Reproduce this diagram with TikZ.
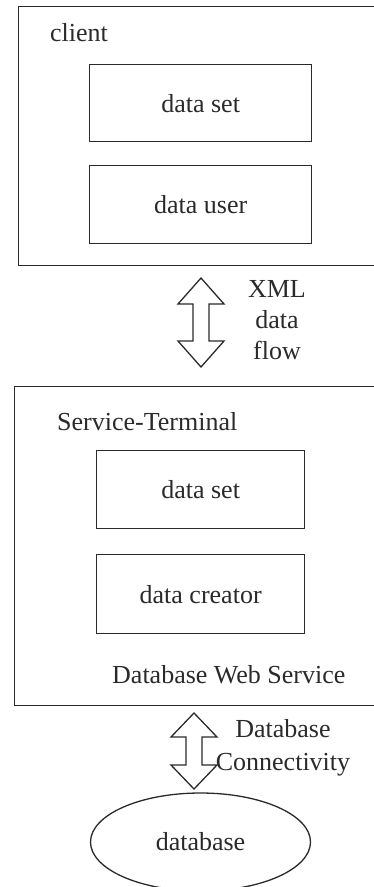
\documentclass[tikz,border=0pt]{standalone}
\usepackage{fontspec}
\setmainfont{Liberation Serif}
\usetikzlibrary{shapes.geometric}
\definecolor{ink}{HTML}{2A2A2A}
\tikzset{
  frame/.style={draw=ink, line width=1.3pt},
  lbl/.style={text=ink, font=\fontsize{26}{31}\selectfont, inner sep=0pt},
  flowarrow/.style={draw=ink, line width=1.3pt, line join=miter}
}
% double-headed block arrow: centre x, top y, bottom y, head length
\newcommand{\blockarrow}[4]{%
  \draw[flowarrow] (#1,#2) -- (#1+23,#2-#4) -- (#1+8,#2-#4) -- (#1+8,#3+#4)
    -- (#1+23,#3+#4) -- (#1,#3) -- (#1-23,#3+#4) -- (#1-8,#3+#4)
    -- (#1-8,#2-#4) -- (#1-23,#2-#4) -- cycle;}
\begin{document}
\begin{tikzpicture}[x=1pt,y=1pt]
  \useasboundingbox (0,0) rectangle (374,-887);
  \clip (0,0) rectangle (374,-887);

  % client side
  \node[frame, rectangle, minimum width=362pt, minimum height=259pt, anchor=north west, inner sep=0pt] (client) at (18,-6) {};
  \node[lbl, anchor=west] (clientlbl) at (50,-33) {client};
  \node[frame, minimum width=222pt, minimum height=77pt, anchor=north west, inner sep=0pt, lbl] (cset) at (89,-64) {data set};
  \node[frame, minimum width=222pt, minimum height=78pt, anchor=north west, inner sep=0pt, lbl] (cuser) at (89,-165) {data user};

  % XML exchange
  \blockarrow{201}{-278}{-367}{26}
  \node[lbl, align=center] (xml) at (277,-320) {XML\\data\\flow};

  % service side
  \node[frame, minimum width=366pt, minimum height=319pt, anchor=north west, inner sep=0pt] (service) at (14,-386) {};
  \node[lbl, anchor=west] (servlbl) at (57,-422) {Service-Terminal};
  \node[frame, minimum width=208pt, minimum height=78pt, anchor=north west, inner sep=0pt, lbl] (sset) at (96,-450) {data set};
  \node[frame, minimum width=208pt, minimum height=79pt, anchor=north west, inner sep=0pt, lbl] (screator) at (96,-554) {data creator};
  \node[lbl, anchor=west] (dbws) at (112,-675) {Database Web Service};

  % database connection
  \blockarrow{194}{-713}{-789}{24}
  \node[lbl, align=center] (conn) at (283,-748) {Database\\[2pt]Connectivity};

  % database
  \node[frame, ellipse, minimum width=220pt, minimum height=98pt, inner sep=0pt, lbl] (db) at (200.5,-842) {database};
\end{tikzpicture}
\end{document}
